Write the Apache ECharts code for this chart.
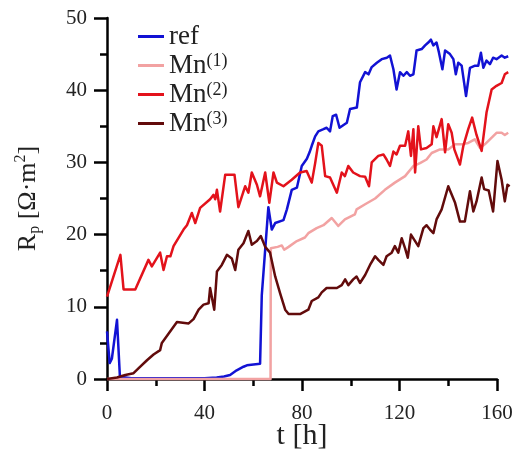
<!DOCTYPE html>
<html>
<head>
<meta charset="utf-8">
<script src="https://cdn.jsdelivr.net/npm/echarts@6/dist/echarts.min.js"></script>
<style>
  html, body { margin: 0; padding: 0; background: #fff; }
  #chart { width: 513px; height: 455px; }
</style>
</head>
<body>
<div id="chart"></div>
<script>
// Polarization resistance Rp over time for the reference and three Mn samples
const xTicks = [0, 40, 80, 120, 160];
const yTicks = [0, 10, 20, 30, 40, 50];
const tLast = 166; // measurements run a little past the last labelled tick

const refT = [0, 1.1, 2, 4.1, 5.3, 10, 20, 30, 40, 45, 48, 50.5, 53.2, 56, 57.4, 62.8, 63.5, 66.2, 67.6, 69, 72.4, 73.8, 75.8, 77.9, 79.9, 82, 83.1, 84, 85.4, 86.7, 88.8, 90.1, 91.5, 92.6, 94, 95.4, 98.4, 99.7, 102.5, 103.8, 105.9, 107.3, 108.6, 110.7, 112.7, 114.8, 116.1, 117.5, 118.8, 120.2, 121.6, 123, 124.3, 125.7, 127, 129.1, 130.5, 131.8, 132.9, 133.9, 135.2, 136.2, 137.6, 138.7, 140.7, 142.1, 143.1, 144.1, 145.5, 147.3, 148.9, 151, 152.3, 153.4, 154.4, 155.7, 157.1, 158.4, 159.8, 161.9, 163.2, 164.6];
const refV = [6.6, 2.2, 2.8, 8.2, 0.3, 0.1, 0.1, 0.1, 0.1, 0.2, 0.35, 0.55, 1.2, 1.7, 1.9, 2.1, 11.6, 23.8, 20.7, 21.6, 22, 23.5, 26.2, 26.5, 29.5, 30.5, 31.4, 32.3, 33.6, 34.3, 34.6, 34.8, 34.3, 36.4, 36.6, 34.8, 35.5, 37.4, 37.6, 41.1, 42.5, 42.2, 43.2, 43.8, 44.3, 44.5, 44.8, 42.9, 40.1, 42.5, 42, 42.5, 42, 42.2, 45.5, 45.7, 46.2, 46.6, 47, 46.2, 46.6, 45.2, 42.9, 45.5, 45, 44.3, 42.2, 43.8, 43.4, 39.2, 43.1, 43.4, 43.4, 45.2, 43.1, 44.1, 43.6, 44.5, 44.3, 44.8, 44.5, 44.7];

const mn1T = [0, 67.1, 67.2, 70, 71.7, 72.7, 74.5, 77.9, 81.2, 82.6, 86, 88.8, 92.2, 94.9, 97.6, 101.7, 102.4, 105.9, 110, 114, 118.1, 122.3, 125.7, 128.4, 131.1, 133.2, 136.6, 140, 142.8, 145.5, 148.2, 150.9, 153, 155, 157.1, 159.8, 161.9, 163.2, 164.6];
const mn1V = [0, 0, 18.1, 18.3, 18.5, 17.9, 18.3, 19.1, 19.6, 20.2, 20.9, 21.3, 22.3, 21.2, 22.1, 22.8, 23.5, 24.2, 25, 26.2, 27.2, 28.1, 29.5, 29.9, 30.4, 31.3, 31.8, 31.8, 32.5, 32.5, 32.7, 33.2, 32, 32.5, 33.2, 34.1, 34.1, 33.8, 34.1];

const mn2T = [0, 5.5, 6.8, 11.6, 17, 18.4, 21.8, 23.2, 24.6, 26, 27.3, 31.4, 32.8, 34.8, 36.2, 38.2, 42.3, 43.7, 44.4, 45.1, 46.4, 48.5, 52.3, 53.9, 56.7, 58, 59.4, 61.5, 62.8, 64.9, 66.6, 68.3, 69.7, 72.4, 75.8, 79.2, 81.9, 84, 85.4, 86.7, 88.1, 89.5, 91.5, 94.3, 96.3, 97.6, 99, 101, 103.8, 105.9, 107.5, 108.6, 111.3, 113.4, 114.7, 116.1, 117.5, 118.8, 120.2, 122.3, 123.6, 124.7, 125.7, 126.4, 127.7, 128.8, 131.1, 133.2, 133.9, 135.2, 137.3, 138.7, 140, 141.4, 142.5, 144.8, 146.2, 148.2, 149.8, 151.6, 153.7, 155.7, 157.8, 159.8, 161.9, 163.2, 164.6];
const mn2V = [11.4, 17.2, 12.4, 12.4, 16.5, 15.6, 17.5, 15.1, 17, 17, 18.4, 20.7, 21.3, 23, 21.6, 23.7, 24.9, 25.5, 24.9, 26.2, 23.2, 28.3, 28.3, 23.8, 26.7, 25.8, 28.6, 26.9, 25.3, 28.6, 24.4, 28.6, 27.2, 26.7, 27.6, 28.6, 28.8, 27.2, 29.9, 32.7, 32.3, 28.1, 27.9, 25.8, 28.6, 28.1, 29.5, 28.6, 28.1, 28, 26.7, 30, 30.9, 31.1, 30.4, 29.5, 31.5, 31.1, 32.3, 32.3, 34.3, 30.9, 34.6, 28.6, 35, 31.8, 32, 32.5, 35, 33.5, 36, 31.4, 35.3, 34.1, 31.8, 29.7, 32.3, 34.6, 36.2, 33.8, 31.6, 36.9, 40.1, 40.6, 41, 42.2, 42.5];

const mn3T = [0, 4.1, 7.5, 10.9, 13, 16.4, 19.1, 21.8, 22.5, 25.3, 28.7, 33.5, 35.5, 37.6, 39.6, 41.7, 42.3, 44, 45.1, 47.1, 49.2, 51.2, 52.6, 53.9, 56, 58, 59.4, 61.5, 63.1, 64.9, 66.9, 69, 71, 73.1, 74.5, 79.2, 82.6, 84, 86.7, 88.1, 90.1, 94.3, 96.3, 97.7, 99, 101, 102.4, 103.8, 105.9, 107.9, 110, 111.3, 113.4, 114.7, 116.8, 118.1, 119.5, 120.9, 122.3, 123.4, 124.7, 126.4, 127.7, 129.8, 131.1, 132.5, 133.9, 135.2, 137.3, 140, 141.7, 142.8, 144.8, 146.8, 148.9, 150.3, 151.6, 153.7, 154.7, 156.6, 158.4, 160.2, 161.9, 163.2, 164.3, 165.2];
const mn3V = [0, 0.2, 0.55, 0.8, 1.5, 2.6, 3.4, 4, 5, 6.3, 7.9, 7.7, 8.3, 9.6, 10.3, 10.5, 12.6, 9.6, 14.9, 15.8, 17.2, 16.7, 15.1, 17.9, 18.8, 20.5, 18.6, 19.1, 19.8, 18.3, 17.5, 14.2, 11.9, 9.6, 9.0, 9.0, 9.6, 10.8, 11.3, 12, 12.6, 12.6, 13, 13.8, 13, 13.8, 14.2, 13.3, 14.4, 15.8, 17, 16.5, 15.8, 17, 17.5, 18.4, 17.5, 19.5, 18.1, 16.8, 20, 19.1, 18.4, 20.9, 21.3, 20.7, 20.2, 22.1, 23.5, 26.7, 25.3, 24.4, 21.8, 21.8, 26, 23.2, 24.6, 27.9, 26.3, 26.1, 23.2, 30.2, 27.6, 24.6, 26.9, 26.7];

const seriesNames = ['ref', 'Mn1', 'Mn2', 'Mn3'];
const seriesColors = ['#1212d4', '#f2a2a2', '#e3121b', '#620b0b'];

const zip = (t, v) => t.map((x, i) => [x, v[i]]);
const seriesData = [zip(refT, refV), zip(mn1T, mn1V), zip(mn2T, mn2V), zip(mn3T, mn3V)];

const FONT = '"Liberation Serif", "Times New Roman", serif';
const INK = '#222';

// Frame geometry: the drawn axes stop at 160 h, while the curves use a
// second, hidden grid with the same scale that reaches a bit further right.
const W = 513, LEFT = 107, RIGHT = 16, TOP = 18, BOTTOM = 76;
const xMax = xTicks[xTicks.length - 1];
const plotW = W - LEFT - RIGHT;
const dataRight = W - LEFT - plotW * tLast / xMax;

const chart = echarts.init(document.getElementById('chart'), null, { renderer: 'canvas' });

const tickStyle = { color: '#000', width: 2.5 };

chart.setOption({
  animation: false,
  backgroundColor: '#fff',
  grid: [
    { left: LEFT, right: RIGHT, top: TOP, bottom: BOTTOM, containLabel: false, outerBoundsMode: 'none' },
    { left: LEFT, right: dataRight, top: TOP, bottom: BOTTOM, containLabel: false, outerBoundsMode: 'none' }
  ],
  legend: {
    orient: 'vertical',
    left: 133,
    top: 18,
    itemWidth: 26,
    itemHeight: 3,
    itemGap: 2,
    icon: 'rect',
    data: seriesNames,
    formatter: name => {
      if (name === 'ref') return '{a|ref}';
      return '{a|Mn}{s|(' + name.slice(2) + ')}';
    },
    textStyle: {
      fontFamily: FONT,
      color: INK,
      rich: {
        a: { fontFamily: FONT, fontSize: 27, lineHeight: 27, color: INK },
        s: { fontFamily: FONT, fontSize: 18, lineHeight: 20, verticalAlign: 'top', color: INK }
      }
    }
  },
  xAxis: [
    {
      gridIndex: 0,
      type: 'value',
      min: xTicks[0],
      max: xMax,
      interval: 40,
      name: 't [h]',
      nameLocation: 'middle',
      nameGap: 42,
      nameMoveOverlap: false,
      nameTextStyle: { fontFamily: FONT, fontSize: 30, color: INK },
      axisLine: { show: true, lineStyle: { color: '#000', width: 2.5 } },
      axisTick: { show: true, inside: false, length: 12, lineStyle: tickStyle },
      minorTick: { show: true, splitNumber: 2, length: 7, lineStyle: tickStyle },
      splitLine: { show: false },
      axisLabel: { fontFamily: FONT, fontSize: 21, color: INK, margin: 24 }
    },
    {
      gridIndex: 1,
      type: 'value',
      min: xTicks[0],
      max: tLast,
      show: false
    }
  ],
  yAxis: [
    {
      gridIndex: 0,
      type: 'value',
      min: yTicks[0],
      max: yTicks[yTicks.length - 1],
      interval: 10,
      name: '{r|R}{sub|p}{r| [Ω·m}{sup|2}{r|]}',
      nameLocation: 'middle',
      nameRotate: 90,
      nameGap: 64,
      nameMoveOverlap: false,
      nameTextStyle: {
        fontFamily: FONT,
        color: INK,
        rich: {
          r: { fontFamily: FONT, fontSize: 26, lineHeight: 30, color: INK },
          sub: { fontFamily: FONT, fontSize: 16, lineHeight: 18, verticalAlign: 'bottom', color: INK },
          sup: { fontFamily: FONT, fontSize: 16, lineHeight: 20, verticalAlign: 'top', color: INK }
        }
      },
      axisLine: { show: true, lineStyle: { color: '#000', width: 2.5 } },
      axisTick: { show: true, inside: false, length: 13, lineStyle: tickStyle },
      minorTick: { show: true, splitNumber: 2, length: 7, lineStyle: tickStyle },
      splitLine: { show: false },
      axisLabel: { fontFamily: FONT, fontSize: 21, color: INK, margin: 20 }
    },
    {
      gridIndex: 1,
      type: 'value',
      min: yTicks[0],
      max: yTicks[yTicks.length - 1],
      show: false
    }
  ],
  series: seriesNames.map((name, i) => ({
    name: name,
    type: 'line',
    xAxisIndex: 1,
    yAxisIndex: 1,
    data: seriesData[i],
    showSymbol: false,
    clip: false,
    color: seriesColors[i],
    lineStyle: { color: seriesColors[i], width: 2.5, join: 'round' },
    emphasis: { disabled: true },
    z: 2 + i
  }))
});
</script>
</body>
</html>
